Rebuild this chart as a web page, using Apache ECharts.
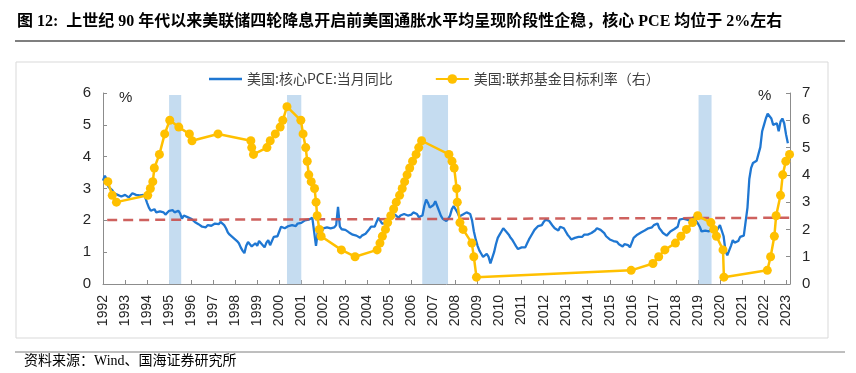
<!DOCTYPE html>
<html><head><meta charset="utf-8">
<script src="https://cdn.jsdelivr.net/npm/echarts@6/dist/echarts.min.js"></script>
<style>html,body{margin:0;padding:0;background:#fff}#c{width:856px;height:373px}</style>
</head><body><div id="c"></div>
<script>
// ---- data ----
const pceStartYear = 1992; // monthly series starting Jan 1992
const corePCE = [
3.25,3.40,3.30,3.05,3.10,2.95,2.85,2.90,2.80,2.85,2.75,2.80,
2.80,2.75,2.72,2.78,2.85,2.88,2.80,2.75,2.78,2.74,2.80,2.72,
2.55,2.40,2.30,2.25,2.35,2.25,2.20,2.28,2.22,2.25,2.18,2.22,
2.30,2.28,2.32,2.25,2.20,2.30,2.22,2.05,2.15,2.12,2.10,2.15,
2.05,2.00,1.95,1.90,1.88,1.85,1.80,1.82,1.78,1.85,1.80,1.83,
1.85,1.90,1.92,1.88,1.95,1.90,1.85,1.75,1.62,1.55,1.50,1.45,
1.40,1.35,1.28,1.15,1.05,0.97,1.20,1.32,1.25,1.18,1.22,1.28,
1.20,1.35,1.30,1.22,1.15,1.30,1.38,1.22,1.20,1.48,1.42,1.50,
1.65,1.80,1.85,1.75,1.80,1.82,1.78,1.85,1.88,1.82,1.90,1.95,
1.92,1.98,2.00,1.95,2.02,2.00,2.08,2.12,1.20,1.65,1.70,1.62,
1.75,1.80,1.78,1.82,1.75,1.80,1.78,1.85,2.42,1.80,1.72,1.75,
1.70,1.68,1.62,1.58,1.55,1.60,1.52,1.48,1.45,1.52,1.50,1.58,
1.62,1.72,1.80,1.85,1.80,1.95,2.08,2.02,1.90,1.85,1.92,1.98,
2.05,2.15,2.10,2.18,2.12,2.08,2.15,2.10,2.20,2.25,2.15,2.10,
2.18,2.25,2.28,2.20,2.10,2.05,2.15,2.45,2.65,2.55,2.40,2.35,
2.48,2.60,2.45,2.30,2.15,2.05,2.00,1.98,2.05,2.15,2.35,2.45,
2.45,2.25,2.12,2.15,2.18,2.22,2.25,2.22,2.20,2.00,1.65,1.40,
1.20,1.05,0.95,0.85,0.80,0.95,0.85,0.65,0.62,1.00,1.25,1.45,
1.55,1.65,1.75,1.70,1.62,1.55,1.45,1.38,1.28,1.18,1.10,1.08,
1.15,1.12,1.15,1.28,1.40,1.50,1.55,1.70,1.75,1.82,1.78,1.85,
1.95,2.02,2.00,1.98,1.90,1.82,1.75,1.72,1.68,1.80,1.85,1.75,
1.65,1.55,1.48,1.40,1.38,1.45,1.42,1.48,1.50,1.48,1.55,1.52,
1.55,1.52,1.60,1.62,1.68,1.75,1.72,1.70,1.68,1.60,1.50,1.45,
1.40,1.38,1.35,1.30,1.32,1.25,1.22,1.18,1.25,1.20,1.22,1.15,
1.20,1.45,1.50,1.55,1.60,1.62,1.65,1.68,1.72,1.75,1.72,1.78,
1.85,1.88,1.90,1.75,1.68,1.60,1.55,1.52,1.58,1.65,1.62,1.72,
1.78,1.80,2.02,2.00,2.05,2.06,2.02,2.00,1.98,2.05,2.12,1.98,
1.90,1.80,1.65,1.62,1.68,1.70,1.65,1.70,1.75,1.72,1.65,1.70,
1.85,1.88,1.50,1.05,0.90,0.95,1.20,1.38,1.30,1.25,1.35,1.48,
1.48,1.52,1.55,2.40,3.30,3.65,3.80,3.85,3.87,3.90,4.30,4.80,
5.00,5.20,5.35,5.40,5.20,5.00,4.95,5.05,4.80,5.10,5.20,5.05,
4.70,4.42
];
const fedDates = [
1992.22,1992.42,1992.61,1994.03,1994.15,1994.26,1994.33,1994.56,1994.80,1995.03,
1995.44,1995.92,1996.04,1997.22,1998.71,1998.75,1998.83,1999.44,1999.59,1999.82,
2000.04,2000.16,2000.35,2000.98,2001.08,2001.20,2001.27,2001.34,2001.45,2001.60,
2001.67,2001.72,2001.82,2001.90,2002.82,2003.44,2004.44,2004.57,2004.68,2004.82,
2004.92,2005.06,2005.19,2005.31,2005.46,2005.58,2005.69,2005.80,2005.92,2006.05,
2006.21,2006.33,2006.46,2007.70,2007.84,2007.94,2008.05,2008.08,2008.20,2008.34,
2008.74,2008.83,2008.95,2015.97,2016.96,2017.22,2017.50,2017.98,2018.23,2018.48,
2018.76,2018.99,2019.59,2019.72,2019.84,2020.14,2020.18,2022.15,2022.30,2022.47,
2022.55,2022.75,2022.85,2022.99,2023.16
];
const fedRates = [
3.75,3.25,3.00,3.25,3.50,3.75,4.25,4.75,5.50,6.00,
5.75,5.50,5.25,5.50,5.25,5.00,4.75,5.00,5.25,5.50,
5.75,6.00,6.50,6.00,5.50,5.00,4.50,4.00,3.75,3.50,
3.00,2.50,2.00,1.75,1.25,1.00,1.25,1.50,1.75,2.00,
2.25,2.50,2.75,3.00,3.25,3.50,3.75,4.00,4.25,4.50,
4.75,5.00,5.25,4.75,4.50,4.25,3.50,3.00,2.25,2.00,
1.50,1.00,0.25,0.50,0.75,1.00,1.25,1.50,1.75,2.00,
2.25,2.50,2.25,2.00,1.75,1.25,0.25,0.50,1.00,1.75,
2.50,3.25,4.00,4.50,4.75
];
const bandStart = [1995.00, 2000.35, 2006.49, 2019.03];
const bandEnd   = [1995.55, 2001.00, 2007.66, 2019.62];
const targetLineFrom = [1992.19, 2.01];
const targetLineTo   = [2023.18, 2.08];
const seriesNames = ['美国:核心PCE:当月同比', '美国:联邦基金目标利率（右）'];
const titleText = '图 12:  上世纪 90 年代以来美联储四轮降息开启前美国通胀水平均呈现阶段性企稳，核心 PCE 均位于 2%左右';
const sourceText = '资料来源：Wind、国海证券研究所';

// ---- chart ----
const pceData = corePCE.map((v, i) => [pceStartYear + i / 12, v]);
const fedData = fedDates.map((d, i) => [d, fedRates[i]]);
const axisColor = '#8c8c8c';
const labelColor = '#262626';
const sansFont = '"Liberation Sans", Arial, sans-serif';
const cjkFont = '"Noto Sans CJK SC", sans-serif';
const serifFont = '"Liberation Serif", "Noto Sans CJK SC", serif';

const chart = echarts.init(document.getElementById('c'), null, {renderer: 'canvas'});
chart.setOption({
  animation: false,
  backgroundColor: '#fff',
  grid: {left: 103, right: 66, top: 93, bottom: 89, containLabel: false, outerBoundsMode: 'none'},
  legend: {
    data: [
      {name: seriesNames[0], icon: 'path://M0,0L120,0L120,9L0,9Z', itemStyle: {color: '#1F77D2'}},
      {name: seriesNames[1]}
    ],
    left: 204, top: 67,
    itemWidth: 33, itemHeight: 12, itemGap: 42,
    textStyle: {fontSize: 14, color: '#404040', fontFamily: cjkFont}
  },
  xAxis: {
    type: 'value', min: 1992, max: 2023.18, interval: 1,
    axisLine: {show: true, lineStyle: {color: axisColor, width: 1}},
    axisTick: {show: true, inside: true, length: 4, lineStyle: {color: axisColor}},
    axisLabel: {
      rotate: 90, margin: 11, fontSize: 14, color: labelColor, fontFamily: sansFont,
      formatter: v => Math.abs(v - Math.round(v)) < 1e-6 ? String(Math.round(v)) : ''
    },
    splitLine: {show: false}
  },
  yAxis: [
    {type: 'value', min: 0, max: 6, interval: 1, position: 'left',
     axisLine: {show: true, lineStyle: {color: axisColor}},
     axisTick: {show: true, inside: true, length: 4, lineStyle: {color: axisColor}},
     axisLabel: {fontSize: 15, margin: 12, color: labelColor, fontFamily: sansFont},
     splitLine: {show: false}},
    {type: 'value', min: 0, max: 7, interval: 1, position: 'right',
     axisLine: {show: true, lineStyle: {color: axisColor}},
     axisTick: {show: true, inside: true, length: 4, lineStyle: {color: axisColor}},
     axisLabel: {fontSize: 15, margin: 12, color: labelColor, fontFamily: sansFont},
     splitLine: {show: false}}
  ],
  series: [
    {
      name: 'bands', type: 'line', data: [], yAxisIndex: 0, z: 1, silent: true,
      markArea: {
        silent: true,
        itemStyle: {color: '#C5DCF0'},
        data: bandStart.map((s, i) => [{xAxis: s, yAxis: 0}, {xAxis: bandEnd[i], yAxis: 5.94}])
      }
    },
    {
      name: seriesNames[0], type: 'line', yAxisIndex: 0, data: pceData, z: 3,
      symbol: 'none', showSymbol: false,
      lineStyle: {color: '#1F77D2', width: 2.3},
      itemStyle: {color: '#1F77D2'}
    },
    {
      name: 'target', type: 'line', data: [], yAxisIndex: 0, z: 4, silent: true,
      markLine: {
        silent: true, symbol: ['none', 'none'], label: {show: false},
        lineStyle: {color: '#C9504C', width: 2.5, type: [10, 6], opacity: 0.9},
        data: [[{coord: targetLineFrom}, {coord: targetLineTo}]]
      }
    },
    {
      name: seriesNames[1], type: 'line', yAxisIndex: 1, data: fedData, z: 5,
      symbol: 'circle', symbolSize: 9, showSymbol: true,
      lineStyle: {color: '#FFC000', width: 2.5},
      itemStyle: {color: '#FFC000'}
    }
  ],
  graphic: [
    {type: 'text', left: 17, top: 14, style: {text: titleText, fontSize: 16, fontWeight: 'bold', fontFamily: serifFont, fill: '#000'}},
    {type: 'line', shape: {x1: 15, y1: 41, x2: 845, y2: 41}, style: {stroke: '#7f7f7f', lineWidth: 2}},
    {type: 'rect', shape: {x: 16, y: 62, width: 812, height: 276}, style: {fill: 'none', stroke: '#d9d9d9', lineWidth: 1}, z: -1},
    {type: 'text', left: 119, top: 90, style: {text: '%', fontSize: 15, fontFamily: sansFont, fill: labelColor}},
    {type: 'text', left: 758, top: 88, style: {text: '%', fontSize: 15, fontFamily: sansFont, fill: labelColor}},
    {type: 'line', shape: {x1: 15, y1: 352, x2: 845, y2: 352}, style: {stroke: '#7f7f7f', lineWidth: 1}},
    {type: 'text', left: 24, top: 354, style: {text: sourceText, fontSize: 14, fontFamily: serifFont, fill: '#000'}}
  ]
});
</script>
</body></html>
